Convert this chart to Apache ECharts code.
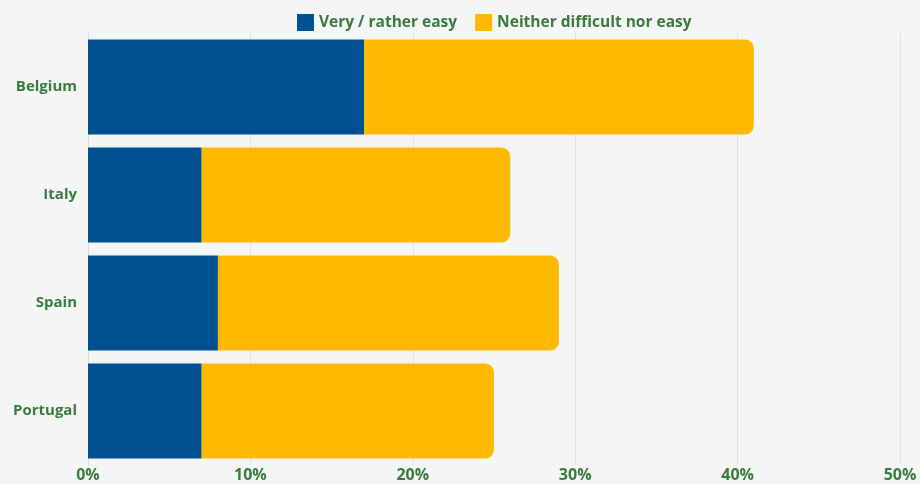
<!DOCTYPE html>
<html><head><meta charset="utf-8">
<script src="https://cdn.jsdelivr.net/npm/echarts@6/dist/echarts.min.js"></script>
<style>html,body{margin:0;padding:0;background:#f4f6f5;}#c{width:920px;height:484px;}</style>
</head><body><div id="c"></div>
<script>
const categories = ['Belgium', 'Italy', 'Spain', 'Portugal'];
const easy = [17, 7, 8, 7];
const neither = [24, 19, 21, 18];
const seriesNames = ['Very / rather easy', 'Neither difficult nor easy'];
const xTicks = [0, 10, 20, 30, 40, 50];

const green = '#3b7a3e';
const font = 'Open Sans';
const chart = echarts.init(document.getElementById('c'));
chart.setOption({
  backgroundColor: '#f4f6f5',
  animation: false,
  legend: {
    top: 9, left: 292, itemWidth: 17, itemHeight: 17, itemGap: 18, itemTextGap: 7,
    icon: 'rect',
    textStyle: { color: green, fontFamily: font, fontWeight: 'bold', fontSize: 15.5 },
    data: seriesNames
  },
  grid: { left: 88, right: 20, top: 33, bottom: 19, containLabel: false },
  xAxis: {
    type: 'value', min: xTicks[0], max: xTicks[xTicks.length - 1], interval: 10,
    axisLine: { show: false }, axisTick: { show: false },
    splitLine: { lineStyle: { color: '#e1e4e4', width: 1 } },
    axisLabel: { formatter: '{value}%', color: green, fontFamily: font, fontWeight: 'bold', fontSize: 16, margin: 2 }
  },
  yAxis: {
    type: 'category', data: categories, inverse: true,
    axisLine: { show: true, lineStyle: { color: '#d8dcdc' } }, axisTick: { show: false },
    axisLabel: { color: green, fontFamily: font, fontWeight: 'bold', fontSize: 15, margin: 11 }
  },
  series: [
    { name: seriesNames[0], type: 'bar', stack: 'a', data: easy, barCategoryGap: '12%',
      itemStyle: { color: '#005192' } },
    { name: seriesNames[1], type: 'bar', stack: 'a', data: neither, barCategoryGap: '12%',
      itemStyle: { color: '#fdb900', borderRadius: [0, 9, 9, 0] } }
  ]
});
</script></body></html>
